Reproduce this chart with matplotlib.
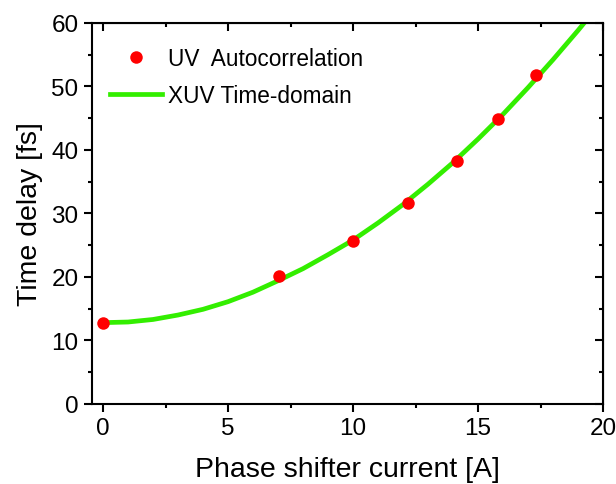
import matplotlib.pyplot as plt
from matplotlib.ticker import MultipleLocator

plt.rcParams['font.family'] = ['Liberation Sans', 'DejaVu Sans']

# measured points (UV autocorrelation)
uv_current = [0.0, 7.05, 10.0, 12.2, 14.15, 15.8, 17.3]
uv_delay = [12.8, 20.1, 25.6, 31.7, 38.3, 44.9, 51.7]

# XUV time-domain curve
xuv_current = [0, 1, 2, 3, 4, 5, 6, 7, 8, 9, 10, 11, 12, 13, 14, 15, 16, 17, 18, 19, 19.25]
xuv_delay = [12.8, 12.9, 13.3, 14.0, 14.9, 16.1, 17.6, 19.4, 21.3, 23.5, 25.8,
             28.5, 31.4, 34.6, 38.0, 41.7, 45.6, 49.8, 54.2, 58.8, 60.0]

fig = plt.figure(figsize=(6.16, 4.85), dpi=100)
ax = fig.add_axes([0.149, 0.165, 0.83, 0.786])

ax.plot(xuv_current, xuv_delay, color='#33ee00', lw=3.4, label='XUV Time-domain', zorder=2)
ax.plot(uv_current, uv_delay, 'o', color='red', ms=9, mec='none',
        label='UV  Autocorrelation', zorder=3)

ax.set_xlim(-0.45, 20)
ax.set_ylim(0, 60)
ax.xaxis.set_major_locator(MultipleLocator(5))
ax.xaxis.set_minor_locator(MultipleLocator(2.5))
ax.yaxis.set_major_locator(MultipleLocator(10))
ax.yaxis.set_minor_locator(MultipleLocator(5))

for s in ax.spines.values():
    s.set_linewidth(1.5)

ax.tick_params(which='both', direction='out', width=1.5, labelsize=17.5, top=False, right=False)
ax.tick_params(which='major', length=6)
ax.tick_params(which='minor', length=3)
# mirrored ticks pointing inward on top and right
axt = ax.secondary_xaxis('top')
axt.xaxis.set_major_locator(MultipleLocator(5))
axt.xaxis.set_minor_locator(MultipleLocator(2.5))
axt.tick_params(which='both', direction='in', width=1.5, labeltop=False)
axt.tick_params(which='major', length=6)
axt.tick_params(which='minor', length=3)
axr = ax.secondary_yaxis('right')
axr.yaxis.set_major_locator(MultipleLocator(10))
axr.yaxis.set_minor_locator(MultipleLocator(5))
axr.tick_params(which='both', direction='in', width=1.5, labelright=False)
axr.tick_params(which='major', length=6)
axr.tick_params(which='minor', length=3)

ax.set_xlabel('Phase shifter current [A]', fontsize=20.5, labelpad=12)
ax.set_ylabel('Time delay [fs]', fontsize=20.5, labelpad=6)

h, l = ax.get_legend_handles_labels()
ax.legend(h[::-1], l[::-1], loc='upper left', frameon=False, fontsize=16.3,
          bbox_to_anchor=(-0.005, 0.99), handlelength=2.3, handletextpad=0.3,
          labelspacing=0.62)

fig.savefig('out.png', dpi=100)
